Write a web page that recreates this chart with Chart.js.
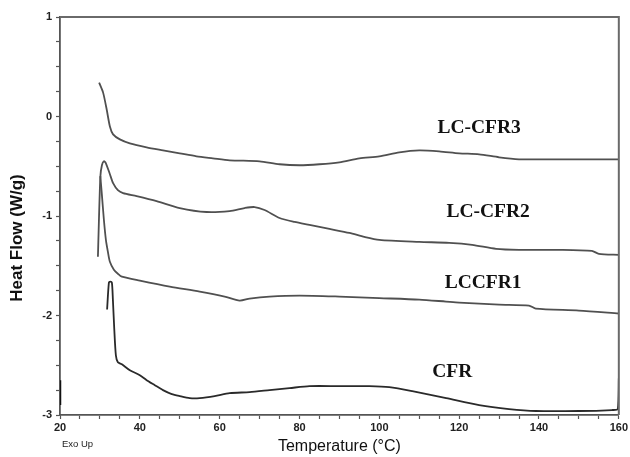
<!DOCTYPE html>
<html><head><meta charset="utf-8">
<script src="https://cdn.jsdelivr.net/npm/chart.js@4.4.0/dist/chart.umd.min.js"></script>
<style>html,body{margin:0;padding:0;background:#fff}</style>
</head><body>
<canvas id="c" width="630" height="457" style="width:630px;height:457px;display:block"></canvas>
<script>
// ---- data ----
const cfr3T = [29.8,30.8,31.7,32.5,33.3,35,37.5,41.7,45.8,50,54.2,58.3,62.5,70,75,80,85,90,95,100,105,110,115,120,125,130,135,140,150,160];
const cfr3V = [0.34,0.24,0.07,-0.10,-0.18,-0.23,-0.27,-0.31,-0.34,-0.37,-0.40,-0.42,-0.44,-0.45,-0.48,-0.49,-0.48,-0.46,-0.42,-0.40,-0.36,-0.34,-0.35,-0.37,-0.38,-0.41,-0.43,-0.43,-0.43,-0.43];

const cfr2T = [29.5,30.1,30.5,31,31.5,32.5,33.3,34.5,35.8,39.2,44.2,50,56.7,62.5,66.25,68.75,71.25,75,78.75,82.5,87.5,92.5,96.25,100,110,117.5,123.25,129.25,135,145,153.25,155,160];
const cfr2V = [-1.41,-0.61,-0.49,-0.45,-0.47,-0.58,-0.67,-0.74,-0.77,-0.80,-0.85,-0.92,-0.96,-0.95,-0.92,-0.91,-0.94,-1.02,-1.06,-1.09,-1.13,-1.17,-1.21,-1.24,-1.26,-1.27,-1.29,-1.33,-1.34,-1.34,-1.35,-1.38,-1.39];

const cfr1T = [30.1,30.5,31,31.5,32,32.5,33.5,34.5,35.5,40,47.5,55,61.25,65,67.5,72.5,80,90,100,110,116.7,120,130,137.5,139.2,150,160];
const cfr1V = [-0.60,-0.79,-1.04,-1.24,-1.36,-1.46,-1.54,-1.58,-1.61,-1.65,-1.71,-1.76,-1.81,-1.85,-1.83,-1.81,-1.80,-1.81,-1.825,-1.84,-1.86,-1.87,-1.89,-1.90,-1.93,-1.95,-1.98];

const cfrT = [31.8,32.25,32.6,33,33.25,33.6,34,34.5,35.5,37.5,40,41.7,43.75,45.8,48,50,52.5,55,58.75,62.5,67.5,72.5,77.5,82.5,90,97.5,102.5,108.25,116.75,125,132.5,139.25,150,158.25,159.75,160];
const cfrV = [-1.94,-1.67,-1.66,-1.67,-1.84,-2.14,-2.40,-2.47,-2.49,-2.55,-2.60,-2.65,-2.70,-2.75,-2.79,-2.81,-2.83,-2.83,-2.81,-2.78,-2.77,-2.75,-2.73,-2.71,-2.71,-2.71,-2.72,-2.76,-2.83,-2.90,-2.94,-2.96,-2.96,-2.95,-2.94,-2.63];

const edgeT = [20,20];
const edgeV = [-2.65,-2.90];

const seriesNames = ['LC-CFR3','LC-CFR2','LCCFR1','CFR'];
const labelT = [125,127.25,126,118.25];
const labelV = [-0.12,-0.96,-1.67,-2.57];

const xTickLabels = [20,40,60,80,100,120,140,160];
const yTickLabels = [1,0,-1,-2,-3];
const xTitle = 'Temperature (°C)';
const yTitle = 'Heat Flow (W/g)';

function pts(T,V){return T.map((t,i)=>({x:t,y:V[i]}));}

const lineColor = '#505050';
const datasets = [
  {label:seriesNames[0],data:pts(cfr3T,cfr3V),borderColor:lineColor},
  {label:seriesNames[1],data:pts(cfr2T,cfr2V),borderColor:lineColor},
  {label:seriesNames[2],data:pts(cfr1T,cfr1V),borderColor:lineColor},
  {label:seriesNames[3],data:pts(cfrT,cfrV),borderColor:'#2a2a2a'},
  {label:'edge',data:pts(edgeT,edgeV),borderColor:'#111',borderWidth:2.5}
].map(d=>Object.assign({showLine:true,pointRadius:0,borderWidth:1.8,tension:0.25,fill:false},d));

const framePlugin = {
  id:'frame',
  afterDraw(chart){
    const {ctx,chartArea:a,scales} = chart;
    ctx.save();
    ctx.strokeStyle='#6a6a6a';ctx.lineWidth=2;
    ctx.beginPath();
    ctx.moveTo(a.left,a.top);ctx.lineTo(a.right,a.top);ctx.lineTo(a.right,a.bottom);
    ctx.stroke();
    ctx.fillStyle='#111';
    ctx.font='bold 19.5px "Liberation Serif", serif';
    ctx.textAlign='center';ctx.textBaseline='middle';
    seriesNames.forEach((n,i)=>{
      ctx.fillText(n, scales.x.getPixelForValue(labelT[i]), scales.y.getPixelForValue(labelV[i]));
    });
    // y axis title
    ctx.save();
    ctx.translate(17, 238);
    ctx.rotate(-Math.PI/2);
    ctx.font='bold 17px "Liberation Sans", Arial, sans-serif';
    ctx.fillText(yTitle, 0, 0);
    ctx.restore();
    ctx.font='9.5px "Liberation Sans", Arial, sans-serif';
    ctx.textAlign='left';
    ctx.fillStyle='#222';
    ctx.fillText('Exo Up', a.left+2, a.bottom+29);
    ctx.restore();
  }
};

new Chart(document.getElementById('c'),{
  type:'scatter',
  data:{datasets},
  options:{
    responsive:false,animation:false,
    layout:{padding:{top:17,right:10,left:0,bottom:0}},
    plugins:{legend:{display:false},tooltip:{enabled:false}},
    scales:{
      x:{type:'linear',min:20,max:160,
        afterFit(s){s.height=42;},
        ticks:{stepSize:5,autoSkip:false,maxRotation:0,padding:2,color:'#222',
          font:{family:'"Liberation Sans", Arial, sans-serif',size:11,weight:'bold'},
          callback:(v)=>xTickLabels.includes(v)?String(v):''},
        grid:{drawOnChartArea:false,drawTicks:true,tickLength:4,tickColor:'#555',tickWidth:1.2},
        border:{display:true,color:'#555',width:1.8},
        title:{display:true,text:xTitle,color:'#111',padding:{top:0,bottom:1},
          font:{family:'"Liberation Sans", Arial, sans-serif',size:16}}
      },
      y:{type:'linear',min:-3,max:1,
        afterFit(s){s.width=60;},
        ticks:{stepSize:0.25,autoSkip:false,padding:4,color:'#222',
          font:{family:'"Liberation Sans", Arial, sans-serif',size:11,weight:'bold'},
          callback:(v)=>yTickLabels.includes(v)?String(v):''},
        grid:{drawOnChartArea:false,drawTicks:true,tickLength:4,tickColor:'#555',tickWidth:1.2},
        border:{display:true,color:'#555',width:1.8},
        title:{display:false,text:yTitle}
      }
    }
  },
  plugins:[framePlugin]
});
</script>
</body></html>
